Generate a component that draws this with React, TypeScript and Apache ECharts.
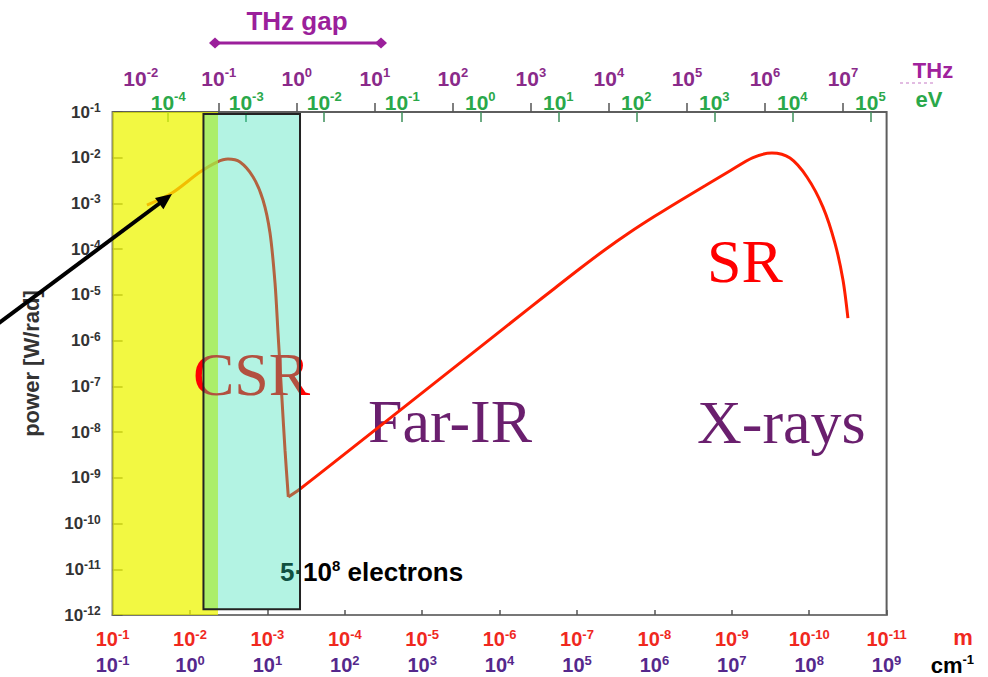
import React, { useEffect, useRef } from "react";
import * as echarts from "echarts";

// ---- data -----------------------------------------------------------------
// Coherent synchrotron radiation part (wavelength in m, power in W/rad)
const CSR_WAVELENGTH = [3.6e-2, 1.71e-2, 7.43e-3, 4.48e-3, 3.23e-3, 2.26e-3, 1.53e-3, 1.14e-3, 9.25e-4, 7.97e-4, 7.29e-4, 6.47e-4, 5.92e-4, 5.37e-4];
const CSR_POWER = [9.2e-4, 1.69e-3, 4.86e-3, 8.05e-3, 9.37e-3, 8.05e-3, 3.79e-3, 1.19e-3, 2.25e-4, 1.81e-5, 1.46e-6, 4.99e-8, 4.02e-9, 3.82e-10];
// Incoherent synchrotron radiation part
const SR_WAVELENGTH = [5.37e-4, 3.79e-4, 3.51e-5, 1.79e-6, 4.05e-7, 1.92e-7, 9.14e-8, 4.35e-8, 2.07e-8, 9.82e-9, 4.67e-9, 2.22e-9, 1.05e-9, 5.32e-10, 3.03e-10, 1.77e-10, 1.07e-10, 6.64e-11, 4.65e-11, 3.66e-11, 3.16e-11];
const SR_POWER = [3.82e-10, 5.69e-10, 1.35e-8, 7.21e-7, 5.27e-6, 1.42e-5, 3.78e-5, 9.71e-5, 2.34e-4, 5.3e-4, 1.15e-3, 2.44e-3, 5.2e-3, 1.01e-2, 1.27e-2, 9.84e-3, 3.79e-3, 8.34e-4, 1.36e-4, 2.11e-5, 3.1e-6];

// axis ranges as powers of ten
const POWER_EXP_RANGE = [-12, -1];
const WAVELENGTH_EXP_RANGE = [-1, -11];
const CM_OFFSET = -2; // cm^-1 exponent = -(m exponent) - 2

// secondary scales (exponents of 10)
const THZ_LABEL_EXP = [-2, -1, 0, 1, 2, 3, 4, 5, 6, 7];
const THZ_TICK_EXP = [-1, 0, 1, 2, 3, 4, 5, 6, 7];
const EV_EXP = [-4, -3, -2, -1, 0, 1, 2, 3, 4, 5];
// where 10^0 of each top scale sits, in decades of 1/wavelength (as drawn)
const THZ_ZERO = 3.38;
const EV_ZERO = 5.75;
const TOP_DECADE = 1.008;

// shaded regions: [wavelength from, wavelength to, power top, power bottom]
const YELLOW_BAND = [1e-1, 4.35e-3, 1e-1, 1e-12];
const CSR_BOX = [6.7e-3, 3.79e-4, 9.0e-2, 1.33e-12];

const SANS = "'Liberation Sans', Arial, Helvetica, sans-serif";
const SERIF = "'Liberation Serif', 'Times New Roman', serif";

const thzPos = (e: number) => THZ_ZERO + TOP_DECADE * e;
const evPos = (e: number) => EV_ZERO + TOP_DECADE * e;
// decade coordinates used by the axes
const dx = (wavelength: number) => -Math.log10(wavelength);
const dy = (power: number) => Math.log10(power);

function rectSeries(name: string, item: number[], z: number, style: any) {
  return {
    type: "custom",
    name,
    z,
    silent: true,
    xAxisIndex: 0,
    yAxisIndex: 0,
    encode: { x: [0, 1], y: [2, 3] },
    data: [[dx(item[0]), dx(item[1]), dy(item[2]), dy(item[3])]],
    renderItem: (_p: any, api: any) => {
      const a = api.coord([api.value(0), api.value(2)]);
      const b = api.coord([api.value(1), api.value(3)]);
      return {
        type: "rect",
        shape: {
          x: Math.min(a[0], b[0]),
          y: Math.min(a[1], b[1]),
          width: Math.abs(b[0] - a[0]),
          height: Math.abs(b[1] - a[1]),
        },
        style,
      };
    },
  };
}

const supStyle = (color: string, size: number, raise: number) => ({
  color,
  fontSize: size,
  fontWeight: "bold",
  fontFamily: SANS,
  lineHeight: 8,
  padding: [0, 0, raise * 2, 0],
});
const baseStyle = (color: string, size: number, lh: number) => ({
  color,
  fontSize: size,
  fontWeight: "bold",
  fontFamily: SANS,
  lineHeight: lh,
});

function buildOption(): any {
  const RED = "#f0281e";
  const CM = "#55288c";
  const THZ = "#8a2a8a";
  const EV = "#2aa84a";

  return {
    animation: false,
    backgroundColor: "#ffffff",
    grid: {
      left: 112.6,
      top: 112,
      width: 774,
      height: 503,
      show: true,
      borderColor: "#5e5e5e",
      borderWidth: 2,
      backgroundColor: "transparent",
      containLabel: false,
      outerBoundsMode: "none",
    },
    xAxis: [
      {
        type: "value",
        position: "bottom",
        min: -WAVELENGTH_EXP_RANGE[0],
        max: -WAVELENGTH_EXP_RANGE[1],
        interval: 1,
        axisLine: { show: true, lineStyle: { color: "#777", width: 2 } },
        axisTick: { show: true, inside: true, length: 5, lineStyle: { color: "#555", width: 1.5 } },
        splitLine: { show: false },
        axisLabel: {
          margin: 11,
          formatter: (v: number) => {
            const e = -Math.round(v);
            return `{m|10}{ms|${e}}\n{c|10}{cs|${-e + CM_OFFSET}}`;
          },
          rich: {
            m: baseStyle(RED, 20, 26),
            ms: supStyle(RED, 13, 5),
            c: baseStyle(CM, 20, 26),
            cs: supStyle(CM, 13, 5),
          },
        },
      },
      {
        type: "value",
        position: "top",
        min: -WAVELENGTH_EXP_RANGE[0],
        max: -WAVELENGTH_EXP_RANGE[1],
        axisLine: { show: false },
        axisTick: {
          show: true,
          inside: false,
          length: 9,
          customValues: THZ_TICK_EXP.map(thzPos),
          lineStyle: { color: "#555", width: 1.5 },
        },
        splitLine: { show: false },
        axisLabel: {
          margin: 23,
          customValues: THZ_LABEL_EXP.map(thzPos),
          formatter: (v: number) => `{t|10}{ts|${Math.round((v - THZ_ZERO) / TOP_DECADE)}}`,
          rich: { t: baseStyle(THZ, 21, 22), ts: supStyle(THZ, 13, 5.5) },
        },
      },
      {
        type: "value",
        position: "top",
        min: -WAVELENGTH_EXP_RANGE[0],
        max: -WAVELENGTH_EXP_RANGE[1],
        axisLine: { show: false },
        axisTick: {
          show: true,
          inside: true,
          length: 10,
          customValues: EV_EXP.map(evPos),
          lineStyle: { color: "#3d8f5a", width: 1.5 },
        },
        splitLine: { show: false },
        axisLabel: {
          margin: 1,
          customValues: EV_EXP.map(evPos),
          formatter: (v: number) => `{g|10}{gs|${Math.round((v - EV_ZERO) / TOP_DECADE)}}`,
          rich: { g: baseStyle(EV, 21, 18), gs: supStyle(EV, 13, 6) },
        },
      },
    ],
    yAxis: [
      {
        type: "value",
        min: POWER_EXP_RANGE[0],
        max: POWER_EXP_RANGE[1],
        interval: 1,
        name: "power [W/rad]",
        nameLocation: "middle",
        nameRotate: 90,
        nameGap: 70,
        nameTextStyle: { color: "#333", fontSize: 22, fontWeight: "bold", fontFamily: SANS },
        axisLine: { show: true, lineStyle: { color: "#777", width: 2 } },
        axisTick: { show: true, inside: true, length: 10, lineStyle: { color: "#555", width: 1.5 } },
        splitLine: { show: false },
        axisLabel: {
          margin: 12,
          formatter: (v: number) => `{b|10}{s|${Math.round(v)}}`,
          rich: { b: baseStyle("#333", 17, 20), s: supStyle("#333", 12, 4) },
        },
      },
    ],
    series: [
      {
        type: "line",
        name: "CSR",
        z: 2,
        silent: true,
        showSymbol: false,
        symbol: "none",
        smooth: 0.3,
        data: CSR_WAVELENGTH.map((w, i) => [dx(w), dy(CSR_POWER[i])]),
        lineStyle: { color: "#ff1e00", width: 3 },
      },
      {
        type: "line",
        name: "SR",
        z: 2,
        silent: true,
        showSymbol: false,
        symbol: "none",
        smooth: 0.3,
        data: SR_WAVELENGTH.map((w, i) => [dx(w), dy(SR_POWER[i])]),
        lineStyle: { color: "#ff1e00", width: 3 },
      },
      rectSeries("far-infrared band", YELLOW_BAND, 3, { fill: "rgba(238,245,0,0.74)" }),
      rectSeries("CSR window", CSR_BOX, 4, { fill: "rgba(44,221,177,0.36)", stroke: "#222", lineWidth: 2 }),
    ],
    graphic: {
      elements: [
        // THz gap
        {
          type: "text",
          z: 10,
          style: { text: "THz gap", x: 297, y: 21, align: "center", verticalAlign: "middle", fill: "#9b1f9b", fontSize: 26, fontWeight: "bold", fontFamily: SANS },
        },
        { type: "line", z: 10, shape: { x1: 215, y1: 43, x2: 381, y2: 43 }, style: { stroke: "#9b1f9b", lineWidth: 3 } },
        { type: "polygon", z: 10, shape: { points: [[209, 43], [215, 37.5], [221, 43], [215, 48.5]] }, style: { fill: "#9b1f9b" } },
        { type: "polygon", z: 10, shape: { points: [[375, 43], [381, 37.5], [387, 43], [381, 48.5]] }, style: { fill: "#9b1f9b" } },
        // unit labels
        { type: "text", z: 10, style: { text: "THz", x: 933, y: 70, align: "center", verticalAlign: "middle", fill: "#a0229c", fontSize: 22, fontWeight: "bold", fontFamily: SANS } },
        { type: "line", z: 10, shape: { x1: 900, y1: 83, x2: 934, y2: 83 }, style: { stroke: "#d9a6d9", lineWidth: 1.5, lineDash: [3, 3] } },
        { type: "text", z: 10, style: { text: "eV", x: 929, y: 99, align: "center", verticalAlign: "middle", fill: "#2aa84a", fontSize: 22, fontWeight: "bold", fontFamily: SANS } },
        { type: "text", z: 10, style: { text: "m", x: 963, y: 637, align: "center", verticalAlign: "middle", fill: "#f0281e", fontSize: 22, fontWeight: "bold", fontFamily: SANS } },
        {
          type: "text",
          z: 10,
          style: {
            text: "{c|cm}{s|-1}",
            x: 974,
            y: 665,
            align: "right",
            verticalAlign: "middle",
            rich: { c: baseStyle("#7b36c9", 22, 24), s: supStyle("#7b36c9", 13, 6) },
          },
        },
        // region annotations
        { type: "text", z: 3.5, style: { text: "CSR", x: 193, y: 374, align: "left", verticalAlign: "middle", fill: "#ff0000", fontSize: 62, fontFamily: SERIF } },
        { type: "text", z: 1, style: { text: "Far-IR", x: 368, y: 421, align: "left", verticalAlign: "middle", fill: "#6a1f6e", fontSize: 62, fontFamily: SERIF } },
        { type: "text", z: 1, style: { text: "X-rays", x: 697, y: 422, align: "left", verticalAlign: "middle", fill: "#6a1f6e", fontSize: 62, fontFamily: SERIF } },
        { type: "text", z: 5, style: { text: "SR", x: 707, y: 261, align: "left", verticalAlign: "middle", fill: "#ff0000", fontSize: 62, fontFamily: SERIF } },
        {
          type: "text",
          z: 1,
          style: {
            text: "{b|5·10}{s|8}{b| electrons}",
            x: 280,
            y: 572,
            align: "left",
            verticalAlign: "middle",
            rich: { b: baseStyle("#222", 26, 30), s: supStyle("#222", 15, 7) },
          },
        },
        // pointer arrow from outside
        { type: "line", z: 10, shape: { x1: -5, y1: 326, x2: 160, y2: 203 }, style: { stroke: "#000", lineWidth: 4 } },
        { type: "polygon", z: 10, shape: { points: [[172, 194], [163.4, 209.2], [155, 198]] }, style: { fill: "#000" } },
      ],
    },
  };
}

export default function App() {
  const ref = useRef<HTMLDivElement>(null);
  useEffect(() => {
    if (!ref.current) return;
    const chart = echarts.init(ref.current, null, { renderer: "svg" });
    chart.setOption(buildOption());
    return () => chart.dispose();
  }, []);
  return (
    <div
      ref={ref}
      style={{ position: "fixed", left: 0, top: 0, width: 988, height: 677, background: "#fff" }}
    />
  );
}
